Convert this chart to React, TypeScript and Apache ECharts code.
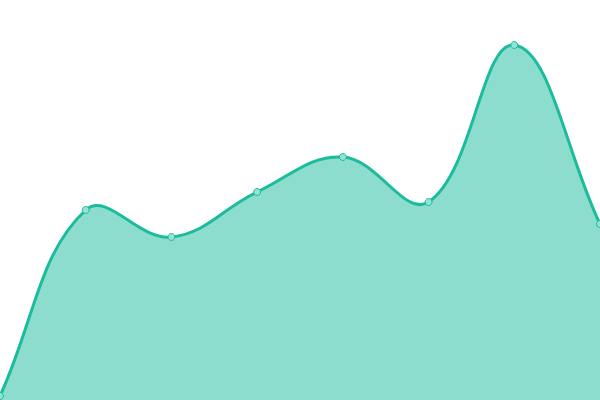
import React, { useEffect, useRef } from 'react';
import * as echarts from 'echarts';

const categories = ['1', '2', '3', '4', '5', '6', '7', '8'];
const values = [4, 190, 163, 208, 243, 198, 355, 176];

const LINE_COLOR = '#1abc9c';
const TENSION = 0.4;

// 按照 tension 样条计算每个点两侧的控制点（像素坐标）
const buildPath = (pts: number[][], rect: any) => {
    const n = pts.length;
    const cps = pts.map((cur, i) => {
        const prev = pts[Math.max(i - 1, 0)];
        const next = pts[Math.min(i + 1, n - 1)];
        const d01 = Math.hypot(cur[0] - prev[0], cur[1] - prev[1]);
        const d12 = Math.hypot(next[0] - cur[0], next[1] - cur[1]);
        let s01 = d01 / (d01 + d12);
        let s12 = d12 / (d01 + d12);
        if (isNaN(s01)) s01 = 0;
        if (isNaN(s12)) s12 = 0;
        const fa = TENSION * s01;
        const fb = TENSION * s12;
        const clampX = (v: number) => Math.min(Math.max(v, rect.x), rect.x + rect.width);
        const clampY = (v: number) => Math.min(Math.max(v, rect.y), rect.y + rect.height);
        return {
            prev: [clampX(cur[0] - fa * (next[0] - prev[0])), clampY(cur[1] - fa * (next[1] - prev[1]))],
            next: [clampX(cur[0] + fb * (next[0] - prev[0])), clampY(cur[1] + fb * (next[1] - prev[1]))],
        };
    });
    let d = `M${pts[0][0]},${pts[0][1]}`;
    for (let i = 1; i < n; i++) {
        const a = cps[i - 1].next;
        const b = cps[i].prev;
        d += ` C${a[0]},${a[1]} ${b[0]},${b[1]} ${pts[i][0]},${pts[i][1]}`;
    }
    return d;
};

const App = () => {
    const chartRef = useRef<HTMLDivElement>(null);

    useEffect(() => {
        const myChart = echarts.init(chartRef.current, null, { renderer: 'svg' });

        const option = {
            animation: false,
            grid: { left: 0, right: 0, top: 0, bottom: 0 },
            xAxis: {
                type: 'value',
                min: 0,
                max: categories.length - 1,
                show: false,
            },
            yAxis: {
                type: 'value',
                min: 0,
                max: 400,
                show: false,
            },
            series: [
                {
                    type: 'custom',
                    clip: false,
                    data: values.map((v, i) => [i, v]),
                    renderItem: (params: any, api: any) => {
                        const p = api.coord([api.value(0), api.value(1)]);
                        const dot = {
                            type: 'circle',
                            shape: { cx: p[0], cy: p[1], r: 3.5 },
                            style: { fill: '#95e2d4', stroke: LINE_COLOR, lineWidth: 1 },
                            z2: 10,
                        };
                        if (params.dataIndex !== 0) return dot;
                        const pts = values.map((v, i) => api.coord([i, v]));
                        const rect = params.coordSys;
                        const line = buildPath(pts, rect);
                        const base = api.coord([0, 0])[1];
                        const area = `${line} L${pts[pts.length - 1][0]},${base} L${pts[0][0]},${base} Z`;
                        return {
                            type: 'group',
                            children: [
                                {
                                    type: 'path',
                                    shape: { pathData: area },
                                    style: { fill: 'rgba(26,188,156,0.5)', stroke: null },
                                },
                                {
                                    type: 'path',
                                    shape: { pathData: line },
                                    style: { fill: null, stroke: LINE_COLOR, lineWidth: 3 },
                                },
                                dot,
                            ],
                        };
                    },
                },
            ],
        };

        myChart.setOption(option);

        return () => {
            myChart.dispose();
        };
    }, []);

    return (
        <div
            ref={chartRef}
            style={{ position: 'fixed', left: 0, top: 0, width: '600px', height: '400px' }}
        />
    );
};

export default App;
